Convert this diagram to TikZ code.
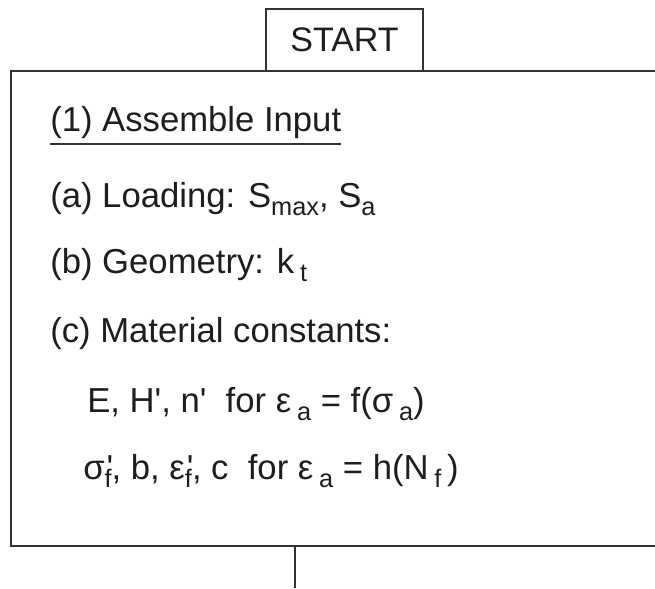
\documentclass[tikz,border=0pt]{standalone}
\usepackage{fontspec}
\setmainfont{Liberation Sans}
\usetikzlibrary{positioning}
\definecolor{ink}{RGB}{30,30,30}
\definecolor{rule}{RGB}{50,50,50}

% lowered subscript, and prime stacked over a subscript
\newcommand{\lowsub}[1]{\raisebox{-0.45ex}{\fontsize{19}{19}\selectfont #1}}
\newcommand{\primesub}[1]{\makebox[0pt][l]{\hspace{1.5pt}\textquotesingle}\lowsub{#1}}
\newcommand{\pr}{\textquotesingle}

\begin{document}
\begin{tikzpicture}[
  x=0.75pt, y=-0.75pt,
  frame/.style={draw=rule, line width=1.9pt},
  startbox/.style={frame, fill=white, inner sep=0pt, text=ink,
                   minimum width=157*0.75pt, minimum height=62*0.75pt,
                   font=\fontsize{25.5}{30}\selectfont},
  inbox/.style={frame, inner sep=0pt,
                minimum width=689*0.75pt, minimum height=475*0.75pt},
  item/.style={anchor=base west, inner sep=0pt, text=ink,
               font=\fontsize{26}{31}\selectfont},
]
\useasboundingbox (0,0) rectangle (655,588);
\clip (0,0) rectangle (655,588);

% ---- the input box (runs off the right edge) ----
\node[inbox] (input) at (355.5,308.5) {};
\node[startbox] (start) at (344.5,40) {START};

% ---- its lines ----
\node[item] (head) at (50,132) {(1) Assemble Input};
\draw[draw=rule, line width=1.5pt]
  ([yshift=-3.6pt]head.south west) -- ([yshift=-3.6pt]head.south east);
\node[item] (load) at (50,207) {(a) Loading: S\lowsub{max}, S\lowsub{a}};
\node[item] (geom) at (50,273) {(b) Geometry: k\,\lowsub{t}};
\node[item] (matl) at (50,342) {(c) Material constants:};
\node[item] (cyc)  at (87,412)
  {E, H\pr, n\pr\ \ for ε\,\lowsub{a} = f(σ\,\lowsub{a})};
\node[item] (fat)  at (83,479)
  {σ\primesub{f}, b, ε\primesub{f}, c\ \ for ε\,\lowsub{a} = h(N\,\lowsub{f}\,)};

% ---- exit line ----
\coordinate (out) at (295,588);
\draw[frame] (input.south -| out) -- (out);

\end{tikzpicture}
\end{document}
